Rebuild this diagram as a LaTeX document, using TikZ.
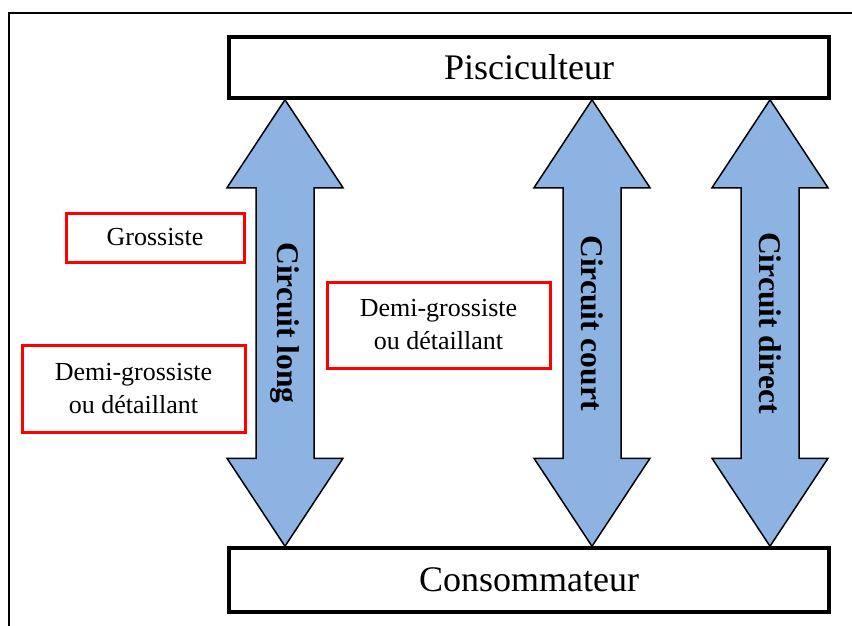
\documentclass[tikz,border=0pt]{standalone}
\usepackage{fontspec}
\setmainfont{Liberation Serif}
\usetikzlibrary{calc}

\definecolor{arrowblue}{HTML}{8DB3E2}
\definecolor{boxred}{HTML}{FF0000}

\begin{document}
\begin{tikzpicture}[
        x=1pt, y=-1pt,
        actor/.style={
            rectangle,
            draw,
            line width=3.5pt,
            align=center,
            minimum width=600pt,
            inner sep=0pt,
            font=\fontsize{36}{43}\selectfont
        },
        agent/.style={
            rectangle,
            draw=boxred,
            line width=3pt,
            align=center,
            inner sep=0pt,
            font=\fontsize{26}{33}\selectfont
        },
        flow/.style={
            draw,
            line width=1.5pt,
            fill=arrowblue,
            line join=miter
        },
        flowlabel/.style={
            rotate=-90,
            font=\bfseries\fontsize{31.5}{38}\selectfont
        }
    ]
        \useasboundingbox (0,0) rectangle (852,626);

        % Frame
        \draw[line width=2.5pt] (9,626) -- (9,13) -- (852,13);

        % Producer and consumer
        \node[actor, minimum height=61pt] (pisc) at (529,67.5) {Pisciculteur};
        \node[actor, minimum height=64pt] (cons) at (529,580) {Consommateur};

        % Intermediaries
        \node[agent, minimum width=178pt, minimum height=49pt] (gros) at (155,237.5) {Grossiste};
        \node[agent, minimum width=223pt, minimum height=87pt] (demil) at (133.5,388.5) {Demi-grossiste\\ou d\'etaillant};
        \node[agent, minimum width=223pt, minimum height=86pt] (demic) at (438.5,325) {Demi-grossiste\\ou d\'etaillant};

        % Circuits
        \foreach \x/\nm/\lab in {285/long/Circuit long, 592/court/Circuit court, 770/direct/Circuit direct} {
            \coordinate (\nm-t) at (pisc.south -| \x,0);
            \coordinate (\nm-b) at (cons.north -| \x,0);
            \draw[flow] (\nm-t) -- ($(\nm-t)+(58,88)$) -- ($(\nm-t)+(29,88)$)
                -- ($(\nm-b)+(29,-88)$) -- ($(\nm-b)+(58,-88)$) -- (\nm-b)
                -- ($(\nm-b)+(-58,-88)$) -- ($(\nm-b)+(-29,-88)$)
                -- ($(\nm-t)+(-29,88)$) -- ($(\nm-t)+(-58,88)$) -- cycle;
            \node[flowlabel] (\nm-lab) at ($(\nm-t)!0.5!(\nm-b)$) {\lab};
        }

    \end{tikzpicture}
\end{document}
